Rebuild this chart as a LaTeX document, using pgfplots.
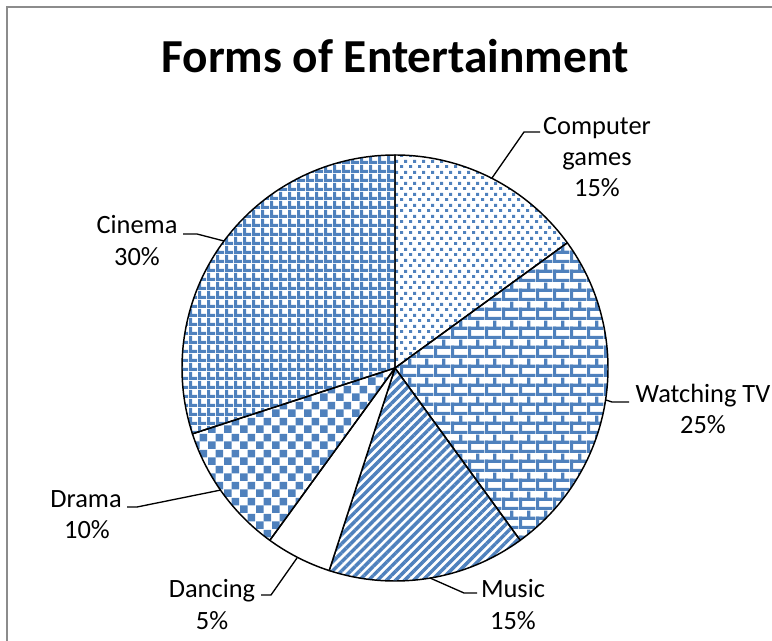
\documentclass[border=0pt]{standalone}
\usepackage{fontspec}
\setmainfont{Carlito}
\usepackage{pgfplots}
\pgfplotsset{compat=1.18}
\usepackage{pgfplotstable}
\usetikzlibrary{patterns,patterns.meta}

\definecolor{pblue}{HTML}{4F81BD}
\definecolor{framegray}{HTML}{8C8C8C}

% fill patterns (1px = 0.75pt)
\tikzdeclarepattern{name=xdots, type=uncolored,
  bounding box={(0pt,0pt) and (6.375pt,8.25pt)}, tile size={(6.375pt,8.25pt)},
  code={\fill (0pt,0pt) rectangle (2.4pt,2.4pt);
        \fill (3.19pt,4.125pt) rectangle (5.59pt,6.525pt);}}
\tikzdeclarepattern{name=xbricks, type=uncolored,
  bounding box={(0pt,0pt) and (12.5pt,14pt)}, tile size={(12.5pt,14pt)},
  code={\fill (0pt,0pt) rectangle (12.5pt,2.4pt);
        \fill (0pt,7pt) rectangle (12.5pt,9.4pt);
        \fill (0pt,0pt) rectangle (2.4pt,9.4pt);
        \fill (6.25pt,7pt) rectangle (8.65pt,14pt);}}
\tikzdeclarepattern{name=xcheck, type=uncolored,
  bounding box={(0pt,0pt) and (12pt,12pt)}, tile size={(12pt,12pt)},
  code={\fill (0pt,0pt) rectangle (6pt,6pt);
        \fill (6pt,6pt) rectangle (12pt,12pt);}}
\tikzdeclarepattern{name=xgrid, type=uncolored,
  bounding box={(0pt,0pt) and (6.75pt,6.75pt)}, tile size={(6.75pt,6.75pt)},
  code={\fill (0pt,0pt) rectangle (6.75pt,2.6pt);
        \fill (0pt,0pt) rectangle (2.6pt,6.75pt);}}

\tikzset{
  slice/.style={draw=black, line width=1.1pt, line join=round},
  sComp/.style={slice, pattern=xdots, pattern color=pblue},
  sTV/.style={slice, pattern=xbricks, pattern color=pblue},
  sMusic/.style={slice, pattern={Lines[angle=45,distance=4.8pt,line width=2.6pt]}, pattern color=pblue},
  sDance/.style={slice, fill=white},
  sDrama/.style={slice, pattern=xcheck, pattern color=pblue},
  sCinema/.style={slice, pattern=xgrid, pattern color=pblue},
  lbl/.style={anchor=base, font=\fontsize{19.8}{23}\selectfont, inner sep=0pt},
  leader/.style={black, line width=1pt},
}

\pgfplotstableread[col sep=comma]{
label,pct,sty
Computer games,15,sComp
Watching TV,25,sTV
Music,15,sMusic
Dancing,5,sDance
Drama,10,sDrama
Cinema,30,sCinema
}\piedata

\begin{document}
\begin{tikzpicture}
% build the slices clockwise from 12 o'clock
\def\R{159.75pt}%
\def\slices{}%
\xdef\acc{90}%
\pgfplotstablegetrowsof{\piedata}%
\pgfmathtruncatemacro{\lastrow}{\pgfplotsretval-1}%
\pgfplotsforeachungrouped \i in {0,...,\lastrow}{%
  \pgfplotstablegetelem{\i}{pct}\of\piedata \let\v\pgfplotsretval
  \pgfplotstablegetelem{\i}{sty}\of\piedata \let\st\pgfplotsretval
  \pgfmathsetmacro{\aend}{\acc-3.6*\v}%
  \xdef\slices{\unexpanded\expandafter{\slices}%
    \noexpand\draw[\st] (axis cs:395,368) -- ++(\acc:\R)
      arc[start angle=\acc, end angle=\aend, radius=\R] -- cycle;}%
  \xdef\acc{\aend}%
}%
\begin{axis}[
    hide axis,
    scale only axis,
    width=579pt,
    height=480.75pt,
    xmin=0, xmax=772,
    ymin=0, ymax=641,
    y dir=reverse,
    clip=false,
]
\coordinate (bl) at (axis cs:0,641);
\coordinate (tr) at (axis cs:772,0);

\draw[framegray, line width=1.1pt] (axis cs:7,641) -- (axis cs:7,7) -- (axis cs:772,7);

\slices

% title
\node[anchor=base, inner sep=0pt, font=\fontsize{35.5}{40}\selectfont\bfseries]
  at (axis cs:395,73) {Forms of Entertainment};

% leader lines
\draw[leader] (axis cs:540,132) -- (axis cs:524,132) -- (axis cs:492,178);
\draw[leader] (axis cs:606,400) -- (axis cs:612,402) -- (axis cs:629,402);
\draw[leader] (axis cs:430,578) -- (axis cs:464,593) -- (axis cs:477,593);
\draw[leader] (axis cs:297,558) -- (axis cs:271,595) -- (axis cs:261,595);
\draw[leader] (axis cs:221,490) -- (axis cs:137,507) -- (axis cs:127,507);
\draw[leader] (axis cs:183,234) -- (axis cs:197,234) -- (axis cs:224,241);

% data labels
\node[lbl] at (axis cs:597,135) {Computer};
\node[lbl] at (axis cs:597,166) {games};
\node[lbl] at (axis cs:597,197) {15\%};
\node[lbl] at (axis cs:703,403) {Watching TV};
\node[lbl] at (axis cs:703,434) {25\%};
\node[lbl] at (axis cs:513,598) {Music};
\node[lbl] at (axis cs:513,630) {15\%};
\node[lbl] at (axis cs:212,598) {Dancing};
\node[lbl] at (axis cs:212,630) {5\%};
\node[lbl] at (axis cs:86,508) {Drama};
\node[lbl] at (axis cs:87,539) {10\%};
\node[lbl] at (axis cs:137,234) {Cinema};
\node[lbl] at (axis cs:137,266) {30\%};
\end{axis}
\pgfresetboundingbox
\path[use as bounding box] (bl) rectangle (tr);
\end{tikzpicture}
\end{document}
